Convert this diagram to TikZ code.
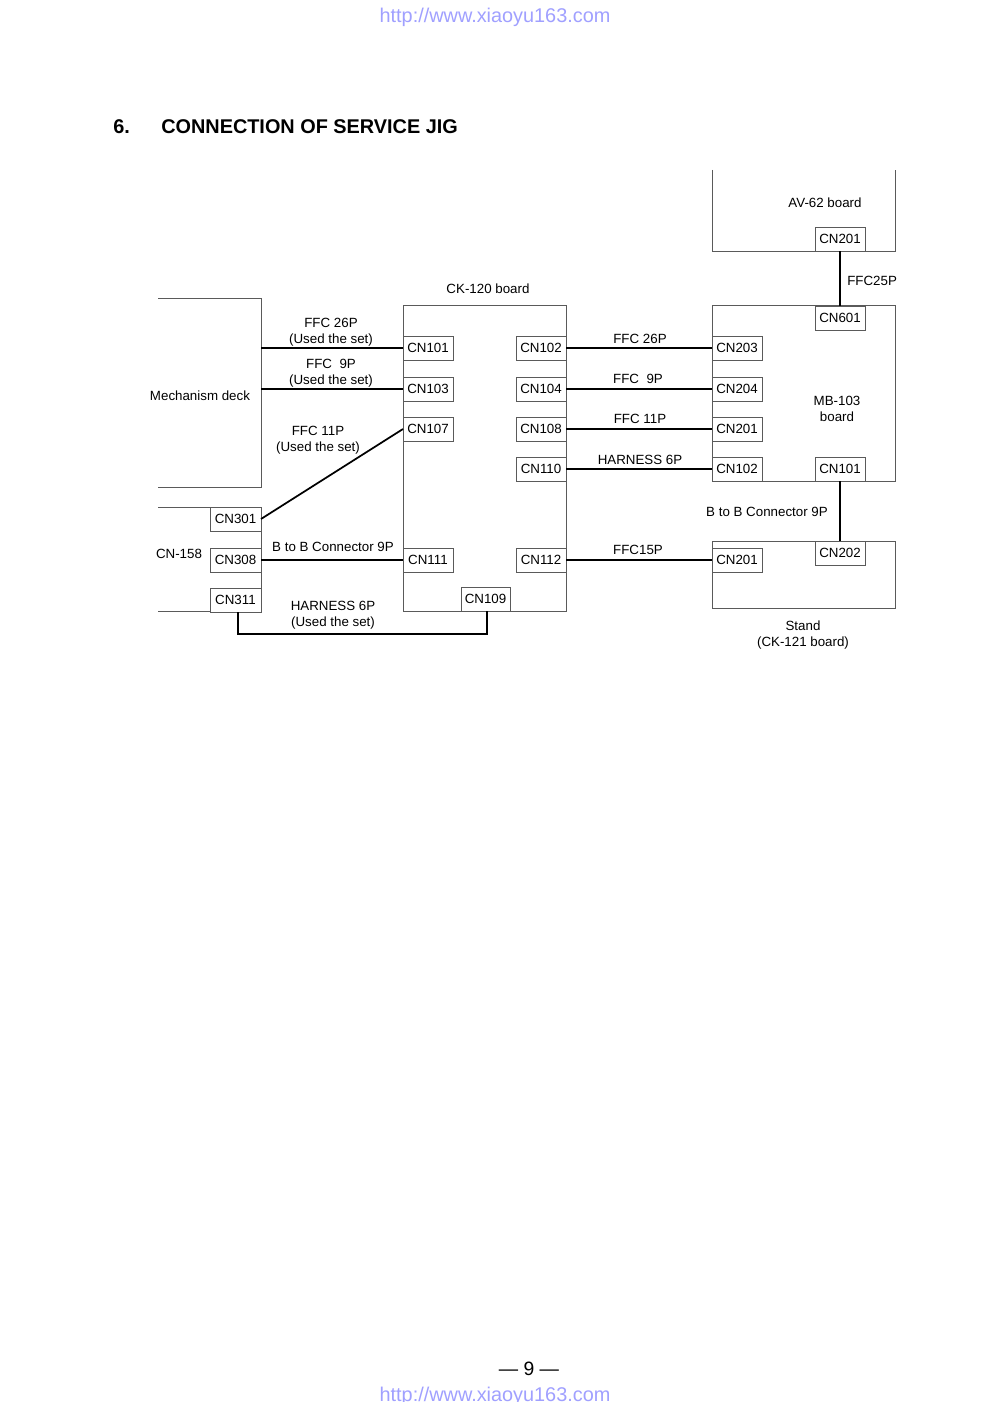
\documentclass[tikz,border=0pt]{standalone}
\usepackage{fontspec}
\setmainfont{Liberation Sans}
\usetikzlibrary{calc}
\definecolor{urlblue}{RGB}{160,160,255}
\definecolor{edge}{RGB}{90,90,90}
\tikzset{
  board/.style={draw=edge, line width=0.6pt, inner sep=0pt, outer sep=0pt, anchor=north west},
  cn/.style={draw=edge, line width=0.6pt, fill=white, inner sep=0pt, outer sep=0pt, anchor=north west,
    minimum width=37.5pt, minimum height=18pt, font=\fontsize{10}{12}\selectfont},
  wire/.style={line width=1.3pt, black},
  outline/.style={draw=edge, line width=0.6pt},
  lbl/.style={font=\fontsize{10}{12}\selectfont, inner sep=0pt, align=center, yshift=-0.75pt},
}
\begin{document}
\begin{tikzpicture}[x=0.75pt, y=-0.75pt]
\useasboundingbox (0,0) rectangle (992,1402);
\fill[white] (0,0) rectangle (992,1402);

% header / footer
\node[font=\fontsize{14.9}{16}\selectfont, text=urlblue, inner sep=0pt] (urltop) at (495,17) {http://www.xiaoyu163.com};
\node[font=\fontsize{14.9}{16}\selectfont, text=urlblue, inner sep=0pt] (urlbot) at (495,1396) {http://www.xiaoyu163.com};
\node[font=\fontsize{14.5}{16}\selectfont, inner sep=0pt] (page) at (529,1369) {— 9 —};
\node[font=\bfseries\fontsize{14.9}{17}\selectfont, inner sep=0pt, anchor=west] (num) at (113,127) {6.};
\node[font=\bfseries\fontsize{14.9}{17}\selectfont, inner sep=0pt, anchor=west] (title) at (161,127) {CONNECTION OF SERVICE JIG};

% Mechanism deck (open left)
\coordinate (md1) at (158,298);
\coordinate (md2) at (261,298);
\coordinate (md3) at (261,487);
\coordinate (md4) at (158,487);
\draw[outline] (md1) -- (md2) -- (md3) -- (md4);
\node[lbl] (mdl) at (200,395) {Mechanism deck};

% CN-158 (open left)
\coordinate (cb1) at (158,507);
\coordinate (cb2) at (261,507);
\coordinate (cb3) at (261,611);
\coordinate (cb4) at (158,611);
\draw[outline] (cb1) -- (cb2) -- (cb3) -- (cb4);
\node[lbl] (cbl) at (179,553) {CN-158};
\node[cn, minimum width=38.25pt] (cn301) at (210,507) {CN301};
\node[cn, minimum width=38.25pt] (cn308) at (210,548) {CN308};
\node[cn, minimum width=38.25pt] (cn311) at (210,588) {CN311};

% CK-120 board
\node[board, minimum width=122.25pt, minimum height=229.5pt] (ck) at (403,305) {};
\node[lbl] (ckl) at (488,288) {CK-120 board};
\node[cn] (cn101) at (403,336) {CN101};
\node[cn] (cn103) at (403,377) {CN103};
\node[cn] (cn107) at (403,417) {CN107};
\node[cn] (cn111) at (403,548) {CN111};
\node[cn] (cn102) at (516,336) {CN102};
\node[cn] (cn104) at (516,377) {CN104};
\node[cn] (cn108) at (516,417) {CN108};
\node[cn] (cn110) at (516,457) {CN110};
\node[cn] (cn112) at (516,548) {CN112};
\node[cn, minimum width=36.75pt] (cn109) at (461,587) {CN109};

% AV-62 board (open top)
\coordinate (av1) at (712,170);
\coordinate (av2) at (712,251);
\coordinate (av3) at (895,251);
\coordinate (av4) at (895,170);
\draw[outline] (av1) -- (av2) -- (av3) -- (av4);
\node[lbl] (avl) at (825,202) {AV-62 board};
\node[cn, anchor=south west] (av201) at (815,251) {CN201};

% MB-103 board
\node[board, minimum width=137.25pt, minimum height=132pt] (mb) at (712,305) {};
\node[lbl] (mbl) at (837,408) {MB-103\\board};
\node[cn] (cn601) at (815,306) {CN601};
\node[cn] (cn203) at (712,336) {CN203};
\node[cn] (cn204) at (712,377) {CN204};
\node[cn] (mb201) at (712,417) {CN201};
\node[cn] (mb102) at (712,457) {CN102};
\node[cn] (mb101) at (815,457) {CN101};

% Stand (CK-121 board)
\node[board, minimum width=137.25pt, minimum height=50.25pt] (st) at (712,541) {};
\node[cn] (st201) at (712,548) {CN201};
\node[cn] (st202) at (815,541) {CN202};
\node[lbl] (stl) at (803,634) {Stand\\(CK-121 board)};

% wires left
\draw[wire] (md2 |- cn101.west) -- (cn101.west);
\draw[wire] (md2 |- cn103.west) -- (cn103.west);
\draw[wire] (cn301.east) -- (cn107.west);
\draw[wire] (cn308.east) -- (cn111.west);
\draw[wire] ([xshift=2pt]cn311.south) -- ++(0,22) -| ([xshift=1pt]cn109.south);
\node[lbl] (w1) at (331,331) {FFC 26P\\(Used the set)};
\node[lbl] (w2) at (331,372) {FFC\ \ 9P\\(Used the set)};
\node[lbl] (w3) at (318,439) {FFC 11P\\(Used the set)};
\node[lbl] (w4) at (333,546) {B to B Connector 9P};
\node[lbl] (w5) at (333,614) {HARNESS 6P\\(Used the set)};

% wires right
\draw[wire] (cn102.east) -- (cn203.west);
\draw[wire] (cn104.east) -- (cn204.west);
\draw[wire] (cn108.east) -- (mb201.west);
\draw[wire] (cn110.east) -- (mb102.west);
\draw[wire] (cn112.east) -- (st201.west);
\node[lbl] (r1) at (640,338) {FFC 26P};
\node[lbl] (r2) at (638,378) {FFC\ \ 9P};
\node[lbl] (r3) at (640,418) {FFC 11P};
\node[lbl] (r4) at (640,459) {HARNESS 6P};
\node[lbl] (r5) at (638,549) {FFC15P};

% vertical wires
\draw[wire] (av201.south) -- (cn601.north);
\draw[wire] (mb101.south) -- (st202.north);
\node[lbl, anchor=west] (v1) at (847,280) {FFC25P};
\node[lbl] (v2) at (767,511) {B to B Connector 9P};
\end{tikzpicture}
\end{document}
